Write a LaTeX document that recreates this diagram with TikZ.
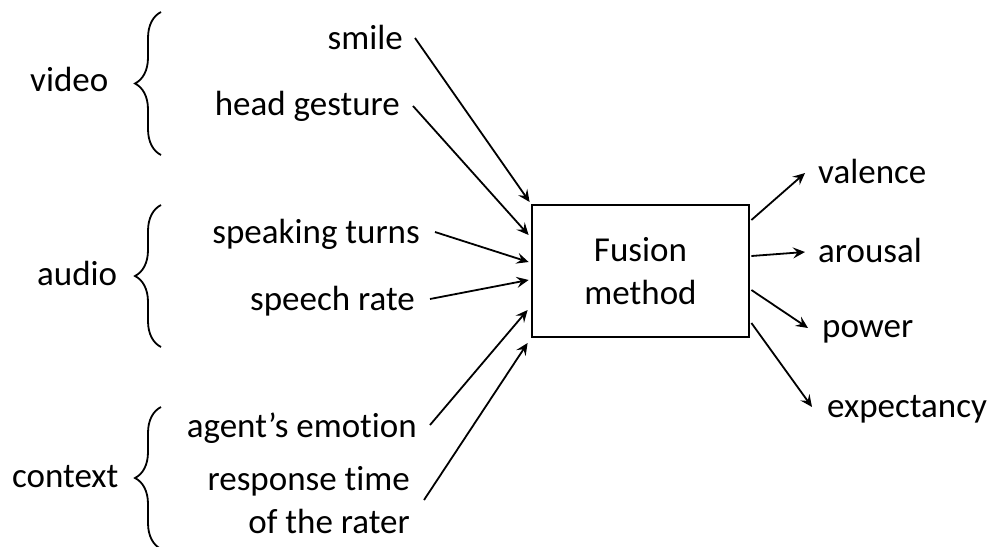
\documentclass[tikz,border=0pt]{standalone}
\usepackage{fontspec}
\setmainfont{Carlito}[Ligatures=NoCommon]
\usetikzlibrary{arrows.meta,calc,decorations.pathreplacing}
\tikzset{
  fuseBox/.style={draw, line width=2.8pt, minimum width=217pt, minimum height=132pt,
    align=center, inner sep=0pt},
  inLabel/.style={inner sep=0pt, anchor=base east, align=right},
  outLabel/.style={inner sep=0pt, anchor=base west},
  grpLabel/.style={inner sep=0pt, anchor=base west},
  %% signal arrows
  sigArrow/.style={-{Stealth[length=12pt,width=11pt,inset=4.5pt]}, line width=1.8pt},
  %% group braces
  grpBrace/.style={decorate, decoration={brace, amplitude=26pt}, line width=1.8pt},
}
\begin{document}
\begin{tikzpicture}[x=1pt, y=-1pt, font=\fontsize{35}{43}\selectfont]
\useasboundingbox (0,0) rectangle (992,546);

\node[fuseBox] (fusion) at (640.5,271) {Fusion\\method};

%% groups
\node[grpLabel] (gVideo)   at (30,91)  {video};
\node[grpLabel] (gAudio)   at (37,285) {audio};
\node[grpLabel] (gContext) at (12,487) {context};
\draw[grpBrace] (161,155) -- (161,12);
\draw[grpBrace] (161,347) -- (161,205);
\draw[grpBrace] (161,549) -- (161,407);

%% input cues
\node[inLabel] (iSmile)  at (403,49)  {smile};
\node[inLabel] (iHead)   at (400,115) {head gesture};
\node[inLabel] (iTurns)  at (420,243) {speaking turns};
\node[inLabel] (iRate)   at (415,310) {speech rate};
\node[inLabel] (iAgent)  at (417,437) {agent’s emotion};
\node[inLabel] (iResp)   at (410,533) {response time\\of the rater};

\draw[sigArrow] ($(iSmile.base east)+(12,-11)$) -- ($(fusion.west)+(-1,-69)$);
\draw[sigArrow] ($(iHead.base east)+(13,-9)$)   -- ($(fusion.west)+(-2,-36)$);
\draw[sigArrow] ($(iTurns.base east)+(15,-11)$) -- ($(fusion.west)+(-2,-9)$);
\draw[sigArrow] ($(iRate.base east)+(15,-11)$)  -- ($(fusion.west)+(-2,9)$);
\draw[sigArrow] ($(iAgent.base east)+(13,-12)$) -- ($(fusion.west)+(-3,39)$);
\draw[sigArrow] ($(iResp.base east)+(14,-33)$)  -- ($(fusion.west)+(-3,72)$);

%% output dimensions
\node[outLabel] (oVal)  at (818,183) {valence};
\node[outLabel] (oAro)  at (818,262) {arousal};
\node[outLabel] (oPow)  at (822,337) {power};
\node[outLabel] (oExp)  at (827,417) {expectancy};

\draw[sigArrow] ($(fusion.east)+(1,-51)$) -- ($(oVal.base west)+(-13,-10)$);
\draw[sigArrow] ($(fusion.east)+(1,-15)$) -- ($(oAro.base west)+(-13,-10)$);
\draw[sigArrow] ($(fusion.east)+(1,19)$)  -- ($(oPow.base west)+(-14,-9)$);
\draw[sigArrow] ($(fusion.east)+(1,52)$)  -- ($(oExp.base west)+(-15,-10)$);
\end{tikzpicture}
\end{document}
